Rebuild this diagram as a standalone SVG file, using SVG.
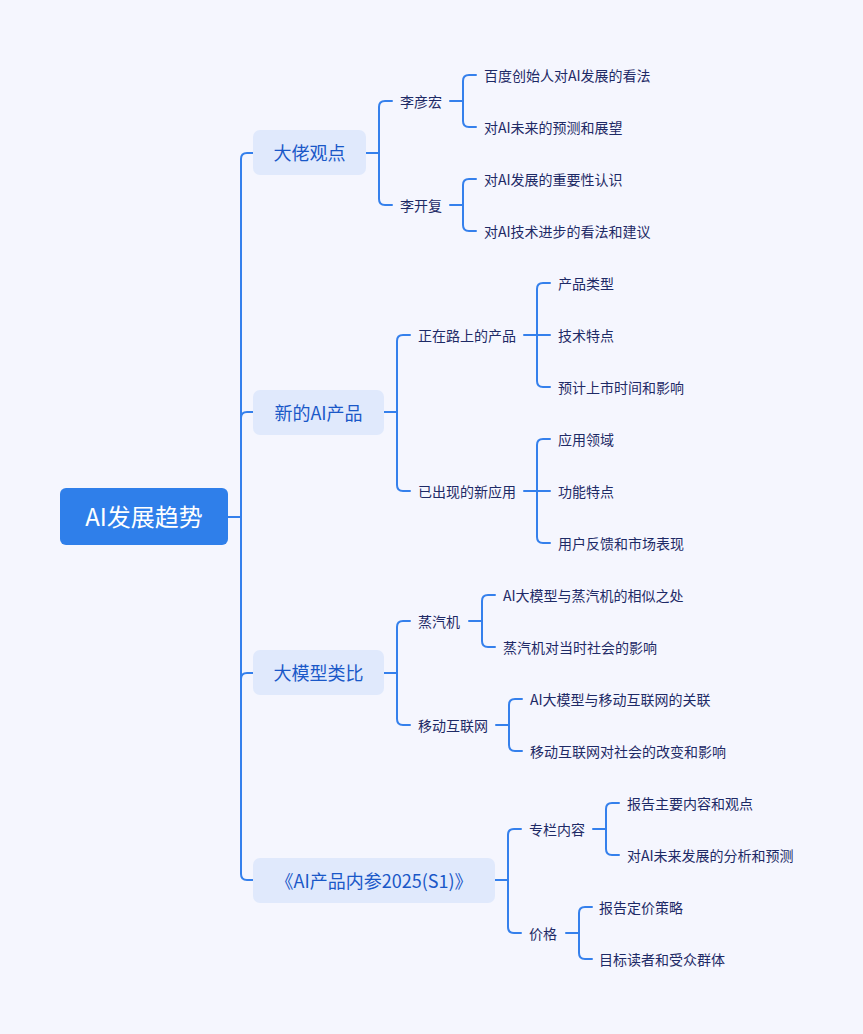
<svg xmlns="http://www.w3.org/2000/svg" width="863" height="1034" viewBox="0 0 863 1034">
<style>
.bg{fill:#F5F6FE}
.c path{fill:none;stroke:#3580EC;stroke-width:2;stroke-linecap:round;stroke-linejoin:round}
text{font-family:"Noto Sans CJK SC","Noto Sans",sans-serif;dominant-baseline:central}
.root rect{fill:#2F7FEA}
.root text{fill:#FFFFFF;font-size:24px;text-anchor:middle}
.l1 rect{fill:#E0E9FC}
.l1 text{fill:#1A58C8;font-size:18px;text-anchor:middle}
.l2 text,.l3 text{fill:#1E2A66;font-size:14px}
</style>
<rect class="bg" x="0" y="0" width="863" height="1034"/>
<g id="connectors" class="c">
<path d="M228,517 H241 V159 Q241,153 247,153 H253"/>
<path d="M241,418 Q241,412 247,412 H253"/>
<path d="M241,679 Q241,673 247,673 H253"/>
<path d="M241,517 V874 Q241,880 247,880 H253"/>
<path d="M366,153 H379 V107 Q379,101 385,101 H392"/>
<path d="M379,153 V199 Q379,205 385,205 H392"/>
<path d="M384,412 H397 V341 Q397,335 403,335 H410"/>
<path d="M397,412 V485 Q397,491 403,491 H410"/>
<path d="M384,673 H397 V627 Q397,621 403,621 H410"/>
<path d="M397,673 V719 Q397,725 403,725 H410"/>
<path d="M495,880 H508 V835 Q508,829 514,829 H521"/>
<path d="M508,880 V927 Q508,933 514,933 H521"/>
<path d="M450,101 H463 V81 Q463,75 469,75 H476"/>
<path d="M463,101 V121 Q463,127 469,127 H476"/>
<path d="M450,205 H463 V185 Q463,179 469,179 H476"/>
<path d="M463,205 V225 Q463,231 469,231 H476"/>
<path d="M524,335 H537 V289 Q537,283 543,283 H550"/>
<path d="M537,335 H550"/>
<path d="M537,335 V381 Q537,387 543,387 H550"/>
<path d="M524,491 H537 V445 Q537,439 543,439 H550"/>
<path d="M537,491 H550"/>
<path d="M537,491 V537 Q537,543 543,543 H550"/>
<path d="M469,621 H482 V601 Q482,595 488,595 H495"/>
<path d="M482,621 V641 Q482,647 488,647 H495"/>
<path d="M496,725 H509 V705 Q509,699 515,699 H522"/>
<path d="M509,725 V745 Q509,751 515,751 H522"/>
<path d="M593,829 H606 V809 Q606,803 612,803 H619"/>
<path d="M606,829 V849 Q606,855 612,855 H619"/>
<path d="M566,933 H579 V913 Q579,907 585,907 H592"/>
<path d="M579,933 V953 Q579,959 585,959 H592"/>
</g>
<g id="root" class="root"><rect x="60" y="488" width="168" height="57" rx="6"/><text x="144" y="515.5">AI发展趋势</text></g>
<g id="n-dalao" class="l1"><rect x="253" y="130" width="113" height="45" rx="7"/><text x="309.5" y="152">大佬观点</text></g>
<g id="n-xinai" class="l1"><rect x="253" y="390" width="131" height="45" rx="7"/><text x="318.5" y="411.5">新的AI产品</text></g>
<g id="n-damoxing" class="l1"><rect x="253" y="650" width="131" height="45" rx="7"/><text x="318.5" y="672">大模型类比</text></g>
<g id="n-neican" class="l1"><rect x="253" y="858" width="242" height="45" rx="7"/><text x="374" y="879.5">《AI产品内参2025(S1)》</text></g>
<g id="n-liyanhong" class="l2"><text x="400" y="100.5">李彦宏</text></g>
<g id="n-likaifu" class="l2"><text x="400" y="204.5">李开复</text></g>
<g id="n-zhengzai" class="l2"><text x="418" y="334.5">正在路上的产品</text></g>
<g id="n-yichuxian" class="l2"><text x="418" y="490.5">已出现的新应用</text></g>
<g id="n-zhengqiji" class="l2"><text x="418" y="620.5">蒸汽机</text></g>
<g id="n-yidong" class="l2"><text x="418" y="724.5">移动互联网</text></g>
<g id="n-zhuanlan" class="l2"><text x="529" y="828.5">专栏内容</text></g>
<g id="n-jiage" class="l2"><text x="529" y="932.5">价格</text></g>
<g id="n-l3-1" class="l3"><text x="484" y="74.5">百度创始人对AI发展的看法</text></g>
<g id="n-l3-2" class="l3"><text x="484" y="126.5">对AI未来的预测和展望</text></g>
<g id="n-l3-3" class="l3"><text x="484" y="178.5">对AI发展的重要性认识</text></g>
<g id="n-l3-4" class="l3"><text x="484" y="230.5">对AI技术进步的看法和建议</text></g>
<g id="n-l3-5" class="l3"><text x="558" y="282.5">产品类型</text></g>
<g id="n-l3-6" class="l3"><text x="558" y="334.5">技术特点</text></g>
<g id="n-l3-7" class="l3"><text x="558" y="386.5">预计上市时间和影响</text></g>
<g id="n-l3-8" class="l3"><text x="558" y="438.5">应用领域</text></g>
<g id="n-l3-9" class="l3"><text x="558" y="490.5">功能特点</text></g>
<g id="n-l3-10" class="l3"><text x="558" y="542.5">用户反馈和市场表现</text></g>
<g id="n-l3-11" class="l3"><text x="503" y="594.5">AI大模型与蒸汽机的相似之处</text></g>
<g id="n-l3-12" class="l3"><text x="503" y="646.5">蒸汽机对当时社会的影响</text></g>
<g id="n-l3-13" class="l3"><text x="530" y="698.5">AI大模型与移动互联网的关联</text></g>
<g id="n-l3-14" class="l3"><text x="530" y="750.5">移动互联网对社会的改变和影响</text></g>
<g id="n-l3-15" class="l3"><text x="627" y="802.5">报告主要内容和观点</text></g>
<g id="n-l3-16" class="l3"><text x="627" y="854.5">对AI未来发展的分析和预测</text></g>
<g id="n-l3-17" class="l3"><text x="599" y="906.5">报告定价策略</text></g>
<g id="n-l3-18" class="l3"><text x="599" y="958.5">目标读者和受众群体</text></g>
</svg>
